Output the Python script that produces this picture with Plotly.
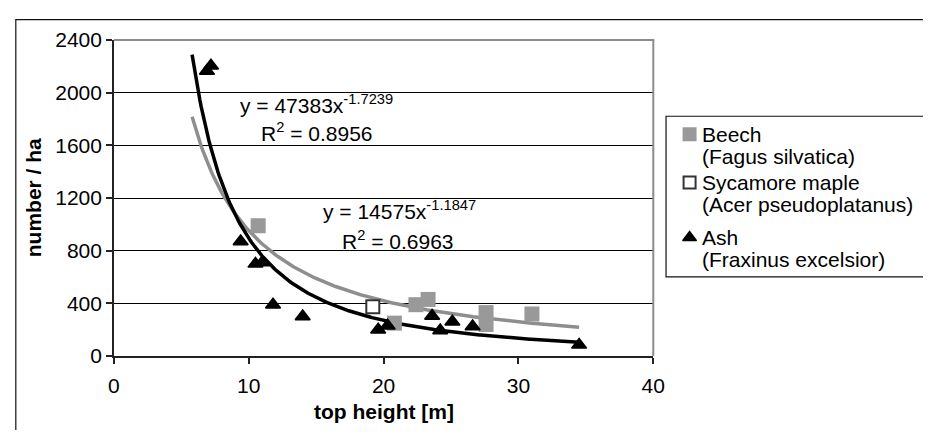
import numpy as np
import plotly.graph_objects as go

W, H = 935, 441

# ---------------- data ----------------
beech_x = [10.7, 20.8, 22.4, 23.3, 27.6, 27.6, 31.0]
beech_y = [990, 250, 390, 430, 330, 240, 320]

maple_x = [19.2]
maple_y = [375]

ash_x = [6.9, 7.2, 9.4, 10.5, 11.0, 11.8, 14.0, 19.6, 20.3, 23.6, 24.2, 25.1, 26.6, 34.5]
ash_y = [2165, 2205, 870, 700, 710, 390, 300, 200, 230, 305, 195, 260, 225, 85]

# power trend lines (coefficients as printed on the chart)
ash_a, ash_b = 47383, -1.7239
beech_a, beech_b = 14575, -1.1847
trend_x_min, trend_x_max = 5.8, 34.5

legend_names = [
    ["Beech", "(Fagus silvatica)"],
    ["Sycamore maple", "(Acer pseudoplatanus)"],
    ["Ash", "(Fraxinus excelsior)"],
]

x_ticks = [0, 10, 20, 30, 40]
y_ticks = [0, 400, 800, 1200, 1600, 2000, 2400]

# ---------------- styles ----------------
FONT = "Liberation Sans, Arial, Helvetica, sans-serif"
FS = 21
GRAY_MARK = "#999999"
GRAY_LINE = "#8e8e8e"
BORDER_GRAY = "#8c8c8c"

fig = go.Figure()

tx = np.linspace(trend_x_min, trend_x_max, 300)
fig.add_trace(go.Scatter(x=tx, y=beech_a * tx ** beech_b, mode="lines",
                         line=dict(color=GRAY_LINE, width=3.5), hoverinfo="skip"))
fig.add_trace(go.Scatter(x=tx, y=ash_a * tx ** ash_b, mode="lines",
                         line=dict(color="black", width=3.5), hoverinfo="skip"))

fig.add_trace(go.Scatter(x=beech_x, y=beech_y, mode="markers", name="Beech",
                         marker=dict(symbol="square", size=15, color=GRAY_MARK)))
fig.add_trace(go.Scatter(x=maple_x, y=maple_y, mode="markers", name="Sycamore maple",
                         marker=dict(symbol="square", size=13, color="white",
                                     line=dict(color="#333333", width=2))))
fig.add_trace(go.Scatter(x=ash_x, y=ash_y, mode="markers", name="Ash",
                         marker=dict(symbol="triangle-up", size=13, color="black",
                                     line=dict(color="black", width=1.5))))

# ---------------- manual legend (pixel overlay axes x2/y2) ----------------
leg_marker_x = 697
leg_text_x = 708
leg_rows = [129, 180, 238]
leg_line2 = 23
leg_styles = [
    dict(symbol="square", size=14, color=GRAY_MARK),
    dict(symbol="square", size=12, color="white", line=dict(color="#333333", width=2)),
    dict(symbol="triangle-up", size=12, color="black", line=dict(color="black", width=1.5)),
]
for row, st in zip(leg_rows, leg_styles):
    fig.add_trace(go.Scatter(x=[leg_marker_x], y=[row], mode="markers", marker=st,
                             xaxis="x2", yaxis="y2", hoverinfo="skip"))

annotations = []
for row, names in zip(leg_rows, legend_names):
    for k, txt in enumerate(names):
        annotations.append(dict(x=leg_text_x, y=row + k * leg_line2, xref="x2", yref="y2",
                                text=txt, showarrow=False, xanchor="left", yanchor="middle",
                                font=dict(family=FONT, size=FS, color="black")))

# equations
annotations += [
    dict(x=237, y=97, text="y = %dx<sup>%.4f</sup>" % (ash_a, ash_b)),
    dict(x=258, y=127, text="R<sup>2</sup> = 0.8956"),
    dict(x=321, y=209, text="y = %dx<sup>%.4f</sup>" % (beech_a, beech_b)),
    dict(x=341, y=241, text="R<sup>2</sup> = 0.6963"),
]
for a in annotations[-4:]:
    a.update(xref="x2", yref="y2", showarrow=False, xanchor="left", yanchor="middle",
             font=dict(family=FONT, size=FS, color="black"))

# axis titles
annotations += [
    dict(x=28, y=196, xref="x2", yref="y2", text="<b>number / ha</b>", textangle=-90,
         showarrow=False, font=dict(family=FONT, size=FS, color="black")),
    dict(x=385, y=421, xref="x2", yref="y2", text="<b>top height [m]</b>",
         showarrow=False, font=dict(family=FONT, size=FS, color="black")),
]

shapes = [
    # outer chart frame
    dict(type="rect", xref="x2", yref="y2", x0=10, y0=8, x1=960, y1=470,
         line=dict(color="#111111", width=1.2), fillcolor="rgba(0,0,0,0)", layer="below"),
    # legend frame
    dict(type="rect", xref="x2", yref="y2", x0=673, y0=110, x1=960, y1=279.5,
         line=dict(color="#111111", width=1.2), fillcolor="rgba(0,0,0,0)"),
    # plot area top and right borders
    dict(type="line", xref="x2", yref="y2", x0=110, y0=29.5, x1=661, y1=29.5,
         line=dict(color=BORDER_GRAY, width=2)),
    dict(type="line", xref="x2", yref="y2", x0=660, y0=29.5, x1=660, y1=363,
         line=dict(color=BORDER_GRAY, width=2)),
]

fig.update_layout(
    width=W, height=H, margin=dict(l=0, r=0, t=0, b=0),
    paper_bgcolor="white", plot_bgcolor="rgba(0,0,0,0)", showlegend=False,
    font=dict(family=FONT, size=FS, color="black"),
    xaxis=dict(domain=[110 / W, 660 / W], range=[0, 40], tickvals=x_ticks,
               ticks="outside", ticklen=6, tickcolor="#222222", tickwidth=1.5,
               ticklabelstandoff=4,
               showline=True, linecolor="#222222", linewidth=1.5,
               showgrid=False, zeroline=False, anchor="y",
               tickfont=dict(family=FONT, size=FS, color="black")),
    yaxis=dict(domain=[(H - 363) / H, (H - 29.5) / H], range=[0, 2400], tickvals=y_ticks,
               ticks="outside", ticklen=6, tickcolor="#222222", tickwidth=1.5,
               showline=True, linecolor="#222222", linewidth=1.5,
               showgrid=True, gridcolor="black", gridwidth=1, zeroline=False, anchor="x",
               tickfont=dict(family=FONT, size=FS, color="black")),
    xaxis2=dict(domain=[0, 1], range=[0, W], visible=False, anchor="y2", fixedrange=True),
    yaxis2=dict(domain=[0, 1], range=[H, 0], visible=False, anchor="x2", fixedrange=True),
    annotations=annotations,
    shapes=shapes,
)

fig.write_html("out.html")
